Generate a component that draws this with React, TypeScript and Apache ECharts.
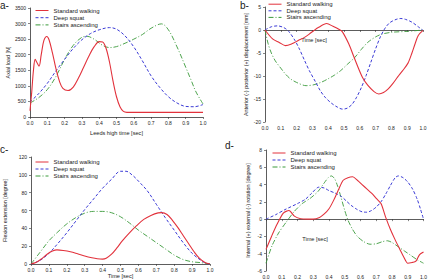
import React, { useEffect, useRef } from "react";
import * as echarts from "echarts";

// Gait-cycle knee measurements: four panels, three activities each.
const seriesNames = ["Standard walking", "Deep squat", "Stairs ascending"];
const timeTicks = [0, 0.1, 0.2, 0.3, 0.4, 0.5, 0.6, 0.7, 0.8, 0.9, 1.0];

// a- Axial load [N]
const walkingLoad = [[0,200],[0.01,800],[0.02,1500],[0.03,1850],[0.04,1750],[0.052,1630],[0.065,2000],[0.08,2450],[0.097,2585],[0.11,2480],[0.13,2050],[0.15,1550],[0.17,1150],[0.19,920],[0.22,850],[0.25,960],[0.28,1250],[0.31,1600],[0.34,1950],[0.37,2250],[0.4,2420],[0.42,2410],[0.44,2200],[0.46,1750],[0.48,1150],[0.5,650],[0.52,330],[0.54,180],[0.56,150],[0.7,150],[0.85,150],[1.0,150]];
const squatLoad = [[0,480],[0.05,750],[0.1,1080],[0.15,1480],[0.2,1850],[0.25,2200],[0.3,2480],[0.35,2680],[0.4,2800],[0.46,2870],[0.5,2820],[0.55,2600],[0.6,2250],[0.65,1800],[0.7,1320],[0.75,950],[0.8,650],[0.85,450],[0.9,340],[0.95,330],[1.0,400]];
const stairsLoad = [[0,450],[0.05,620],[0.1,880],[0.15,1300],[0.2,1850],[0.25,2300],[0.3,2560],[0.33,2590],[0.37,2500],[0.42,2300],[0.46,2230],[0.5,2260],[0.55,2370],[0.6,2500],[0.65,2650],[0.7,2850],[0.76,2990],[0.8,2800],[0.85,2250],[0.9,1600],[0.93,1200],[0.96,800],[1.0,420]];

// b- Anterior (-) posterior (+) displacement [mm]
const walkingDisp = [[0,0],[0.05,-2],[0.09,-2.7],[0.13,-3.4],[0.17,-3],[0.21,-2.3],[0.25,-1.6],[0.28,-0.9],[0.31,-0.1],[0.34,0.6],[0.39,1.4],[0.43,0.8],[0.47,0.1],[0.49,-0.4],[0.53,-3],[0.56,-5.6],[0.59,-8.2],[0.62,-10.5],[0.65,-12],[0.69,-13.4],[0.72,-13.9],[0.75,-13.6],[0.78,-12.8],[0.81,-11.6],[0.84,-10.2],[0.87,-8.9],[0.905,-7.2],[0.93,-5],[0.95,-3],[0.97,-1.2],[1.0,-0.1]];
const squatDisp = [[0,0],[0.04,0.7],[0.08,0.9],[0.12,0.5],[0.15,-0.3],[0.19,-2.3],[0.22,-4.3],[0.25,-6.6],[0.28,-8.8],[0.32,-11.3],[0.35,-13.2],[0.38,-14.6],[0.42,-15.9],[0.46,-16.8],[0.49,-17.2],[0.52,-17],[0.55,-16.2],[0.58,-14.6],[0.61,-12.5],[0.64,-9.9],[0.67,-7],[0.7,-4.1],[0.73,-1.5],[0.76,0.4],[0.79,1.6],[0.83,2.3],[0.86,2.5],[0.89,2.3],[0.93,1.7],[0.97,0.7],[1.0,-0.1]];
const stairsDisp = [[0,0],[0.02,-3],[0.04,-5],[0.065,-6.7],[0.1,-8.3],[0.13,-9.6],[0.16,-10.6],[0.2,-11.4],[0.26,-12.1],[0.31,-11.9],[0.36,-11.3],[0.4,-10.6],[0.44,-9.8],[0.48,-8.8],[0.52,-7.5],[0.57,-5.9],[0.61,-4.2],[0.65,-2.7],[0.7,-1.5],[0.74,-0.9],[0.8,-0.5],[0.9,-0.3],[1.0,0]];

// c- Flexion extension [degree]
const walkingFlex = [[0,0],[0.03,2],[0.06,6],[0.09,11],[0.12,14.5],[0.145,15.8],[0.18,15.2],[0.22,13.8],[0.26,11.5],[0.3,9],[0.34,7],[0.37,5.9],[0.4,5.5],[0.42,6.5],[0.45,11],[0.48,18],[0.51,26],[0.55,35],[0.59,43],[0.63,50],[0.67,54.5],[0.71,57.3],[0.73,57.6],[0.76,55.5],[0.79,49],[0.82,41],[0.85,32],[0.88,23],[0.91,14],[0.94,6.5],[0.97,2],[1.0,0]];
const squatFlex = [[0,0],[0.05,4],[0.1,12],[0.15,23],[0.2,35],[0.25,48],[0.3,61],[0.35,73],[0.4,85],[0.45,95],[0.5,104],[0.53,104],[0.57,99],[0.6,93],[0.65,82],[0.7,67],[0.75,52],[0.8,38],[0.85,24],[0.9,12],[0.95,4],[0.98,0.5],[1.0,0]];
const stairsFlex = [[0,0],[0.05,13],[0.1,26],[0.15,36],[0.2,45],[0.25,52],[0.3,57],[0.35,59],[0.4,59],[0.45,57.5],[0.5,53],[0.55,46],[0.6,38],[0.65,31],[0.7,24],[0.75,17],[0.8,10],[0.85,5],[0.9,2.5],[0.95,1.5],[1.0,0]];

// d- Internal (+) external (-) rotation [degree]
const walkingRot = [[0,-3.5],[0.035,-2],[0.07,-0.6],[0.11,0.7],[0.146,1],[0.18,0.35],[0.22,0.05],[0.26,0],[0.3,0],[0.34,0.2],[0.37,0.6],[0.4,1.2],[0.43,2.2],[0.46,3.4],[0.49,4.5],[0.52,4.8],[0.55,4.9],[0.58,4.5],[0.61,4],[0.64,3.5],[0.67,3],[0.7,2.4],[0.73,1.8],[0.76,0.2],[0.79,-1.2],[0.82,-2.4],[0.85,-3.5],[0.875,-4.4],[0.9,-5.1],[0.93,-5],[0.95,-4.9],[0.975,-4.1],[1.0,-3.8]];
const squatRot = [[0,0],[0.06,0.5],[0.12,1.1],[0.2,1.8],[0.25,2.3],[0.29,3],[0.335,3.7],[0.37,3.6],[0.4,3.3],[0.44,3],[0.48,2.6],[0.51,2.1],[0.54,1.6],[0.58,1.1],[0.61,0.85],[0.64,0.8],[0.67,1],[0.7,1.4],[0.73,2],[0.76,2.9],[0.79,3.9],[0.82,4.8],[0.84,5],[0.87,4.8],[0.9,4.3],[0.93,3.5],[0.96,2.3],[0.98,1.2],[1.0,0]];
const stairsRot = [[0,-5.1],[0.02,-4],[0.04,-3],[0.08,-1.6],[0.13,-0.3],[0.18,0.9],[0.23,1.8],[0.28,2.4],[0.33,3.2],[0.37,4.2],[0.395,4.8],[0.415,5],[0.435,4.7],[0.455,3.8],[0.475,2.6],[0.5,1],[0.52,-0.1],[0.55,-1.2],[0.58,-2],[0.62,-2.6],[0.66,-2.9],[0.7,-2.85],[0.74,-2.6],[0.77,-2.5],[0.8,-2.7],[0.84,-3.2],[0.88,-3.7],[0.92,-4.2],[0.96,-4.7],[1.0,-5.1]];

const FONT = "'Liberation Sans', Arial, sans-serif";
const AXIS_COLOR = "#333";
const COLORS = ["#e2323c", "#3a3ad6", "#3a9a3a"];
const LINE_STYLES: any[] = [
  { width: 1.1, type: "solid" },
  { width: 1.0, type: [3, 2] },
  { width: 0.9, type: [5, 2, 1, 2] },
];

type Panel = {
  grid: { left: number; top: number; width: number; height: number };
  yMin: number; yMax: number; yStep: number;
  yName: string; yNameGap: number;
  xName: string; xNameGap: number;
  // x-axis title placed off-centre (panels b and d) is drawn as a graphic text
  xNameAt?: { x: number; y: number };
  legend: { left: number; top: number; gap: number };
  data: number[][][];
  smooth: number;
};

const panels: Panel[] = [
  {
    grid: { left: 30, top: 8, width: 173, height: 109 },
    yMin: 0, yMax: 3500, yStep: 500,
    yName: "Axial load [N]", yNameGap: 17,
    xName: "Leeds high time [sec]", xNameGap: 13,
    legend: { left: 35, top: 7.5, gap: 1.2 },
    data: [walkingLoad, squatLoad, stairsLoad],
    smooth: 0.35,
  },
  {
    grid: { left: 265, top: 7, width: 158, height: 115 },
    yMin: -20, yMax: 5, yStep: 5,
    yName: "Anterior (-) posterior (+) displacement [mm]", yNameGap: 17,
    xName: "Time [sec]", xNameGap: 8, xNameAt: { x: 314, y: 40 },
    legend: { left: 268, top: 1.2, gap: 0.6 },
    data: [walkingDisp, squatDisp, stairsDisp],
    smooth: 0.3,
  },
  {
    grid: { left: 31, top: 157, width: 179, height: 109 },
    yMin: 0, yMax: 120, yStep: 20,
    yName: "Flexion extension [degree]", yNameGap: 24,
    xName: "Time [sec]", xNameGap: 9,
    legend: { left: 35, top: 159, gap: 1 },
    data: [walkingFlex, squatFlex, stairsFlex],
    smooth: 0.35,
  },
  {
    grid: { left: 266, top: 150, width: 158, height: 121 },
    yMin: -6, yMax: 8, yStep: 2,
    yName: "Internal (+) external (-) rotation [degree]", yNameGap: 16,
    xName: "Time [sec]", xNameGap: 17, xNameAt: { x: 315, y: 239 },
    legend: { left: 272, top: 150, gap: 1 },
    data: [walkingRot, squatRot, stairsRot],
    smooth: 0.25,
  },
];

const panelLetters = [
  { text: "a-", x: 0, y: 0 },
  { text: "b-", x: 240, y: 0 },
  { text: "c-", x: 0, y: 144 },
  { text: "d-", x: 225, y: 140 },
];

function buildOption() {
  const axisLine = { lineStyle: { color: AXIS_COLOR, width: 0.8 } };
  const axisTick = { length: 2, lineStyle: { color: AXIS_COLOR, width: 0.6 } };
  const labelStyle = { fontSize: 5, color: "#222", fontFamily: FONT };
  const nameStyle = { fontSize: 5.6, color: "#222", fontFamily: FONT };

  const letterTexts = panelLetters.map((l) => ({
    type: "text",
    left: l.x,
    top: l.y,
    style: { text: l.text, fontSize: 10, fontFamily: FONT, fill: "#222" },
  }));
  const xNameTexts = panels
    .filter((p) => p.xNameAt)
    .map((p) => ({
      type: "text",
      x: p.xNameAt!.x,
      y: p.xNameAt!.y,
      style: { text: p.xName, ...nameStyle, fill: "#222", align: "center", verticalAlign: "middle" },
    }));

  return {
    animation: false,
    backgroundColor: "#fff",
    textStyle: { fontFamily: FONT },
    grid: panels.map((p) => ({ ...p.grid, containLabel: false })),
    xAxis: panels.map((p, i) => ({
      type: "value",
      gridIndex: i,
      min: timeTicks[0],
      max: timeTicks[timeTicks.length - 1],
      interval: 0.1,
      axisLine: { ...axisLine, onZero: true },
      axisTick,
      splitLine: { show: false },
      axisLabel: { ...labelStyle, margin: 3, formatter: (v: number) => v.toFixed(1) },
      name: p.xNameAt ? "" : p.xName,
      nameLocation: "middle",
      nameGap: p.xNameGap,
      nameTextStyle: nameStyle,
    })),
    yAxis: panels.map((p, i) => ({
      type: "value",
      gridIndex: i,
      min: p.yMin,
      max: p.yMax,
      interval: p.yStep,
      axisLine: { ...axisLine, show: true, onZero: false },
      axisTick: { ...axisTick, show: true },
      splitLine: { show: false },
      axisLabel: { ...labelStyle, margin: 4, formatter: (v: number) => String(v) },
      name: p.yName,
      nameLocation: "middle",
      nameGap: p.yNameGap,
      nameTextStyle: { ...nameStyle, fontSize: 5.4 },
    })),
    legend: panels.map((p) => ({
      data: seriesNames,
      orient: "vertical",
      left: p.legend.left,
      top: p.legend.top,
      itemWidth: 13,
      itemHeight: 6,
      itemGap: p.legend.gap,
      padding: 0,
      selectedMode: false,
      itemStyle: { color: "transparent", borderWidth: 0, opacity: 0 },
      lineStyle: { width: 1 },
      textStyle: { fontSize: 6, lineHeight: 6, color: "#222", fontFamily: FONT },
    })),
    series: panels.flatMap((p, i) =>
      p.data.map((d, k) => ({
        type: "line",
        name: seriesNames[k],
        xAxisIndex: i,
        yAxisIndex: i,
        data: d,
        smooth: p.smooth,
        symbol: "none",
        showSymbol: false,
        color: COLORS[k],
        lineStyle: { ...LINE_STYLES[k], color: COLORS[k] },
        z: 3 - k,
      }))
    ),
    graphic: [...letterTexts, ...xNameTexts],
  };
}

export default function App() {
  const ref = useRef<HTMLDivElement>(null);

  useEffect(() => {
    document.body.style.margin = "0";
    if (!ref.current) return;
    const chart = echarts.init(ref.current, undefined, { renderer: "svg" });
    chart.setOption(buildOption() as any);
    return () => chart.dispose();
  }, []);

  return <div ref={ref} style={{ width: 430, height: 280 }} />;
}
